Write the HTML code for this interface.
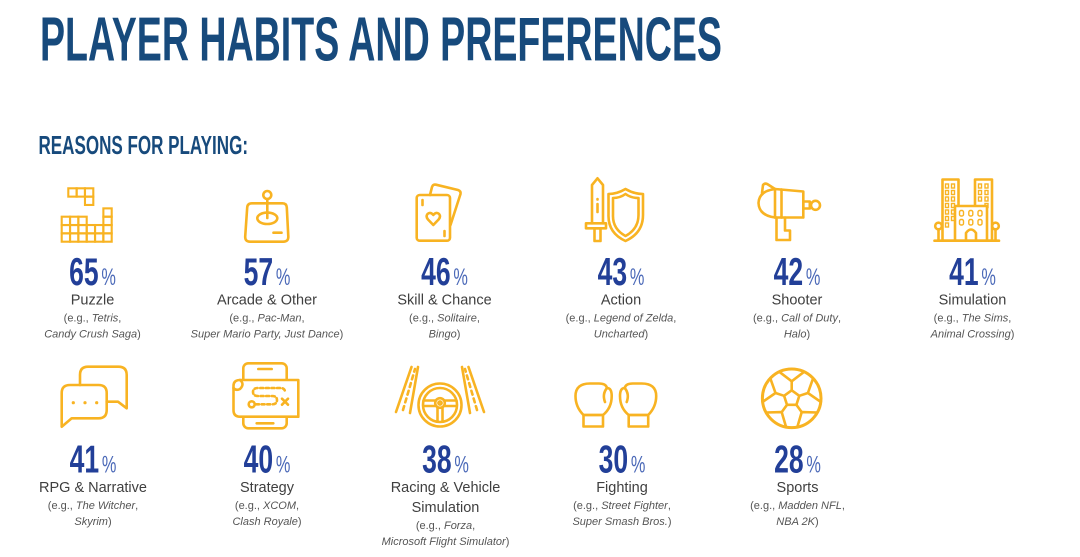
<!DOCTYPE html>
<html><head><meta charset="utf-8"><style>
html,body{margin:0;padding:0;background:#fff;}
svg{display:block;}
.ic{fill:none;stroke:#f8b322;stroke-width:2.6;stroke-linecap:round;stroke-linejoin:round}
.icw{fill:#fff;stroke:#f8b322;stroke-width:2.6;stroke-linecap:round;stroke-linejoin:round}
.c{fill:none;stroke:#f8b322;stroke-width:2.1}
.w{fill:none;stroke:#f8b322;stroke-width:1.4}
.t{font-family:"Liberation Sans",sans-serif;}
.lab{font-family:"Liberation Sans",sans-serif;font-size:14.5px;fill:#3f3f3f;text-anchor:middle}
.sub{font-family:"Liberation Sans",sans-serif;font-size:11px;fill:#555;text-anchor:middle}
.it{font-style:italic}
.pct{font-family:"Liberation Sans",sans-serif;text-anchor:middle}
.pn{font-weight:bold;font-size:39px;fill:#223f98}
.pc{font-size:24px;fill:#4b69b8}
</style></head><body>
<svg width="1080" height="557" viewBox="0 0 1080 557" xmlns="http://www.w3.org/2000/svg">
<rect width="1080" height="557" fill="#fff"/>
<text class="t" x="40" y="60.7" font-size="62" font-weight="bold" fill="#174a7c" textLength="682" lengthAdjust="spacingAndGlyphs">PLAYER HABITS AND PREFERENCES</text>
<text class="t" x="38.5" y="154" font-size="26" font-weight="bold" fill="#174a7c" textLength="209.5" lengthAdjust="spacingAndGlyphs">REASONS FOR PLAYING:</text>

<!-- Puzzle icon -->
<g class="c">
<rect x="68.3" y="188.3" width="8.33" height="8.33"/><rect x="76.63" y="188.3" width="8.33" height="8.33"/><rect x="84.97" y="188.3" width="8.33" height="8.33"/><rect x="84.97" y="196.63" width="8.33" height="8.33"/>
<rect x="61.7" y="233.37" width="8.33" height="8.33"/><rect x="61.7" y="225.03" width="8.33" height="8.33"/><rect x="61.7" y="216.7" width="8.33" height="8.33"/>
<rect x="70.03" y="233.37" width="8.33" height="8.33"/><rect x="70.03" y="225.03" width="8.33" height="8.33"/><rect x="70.03" y="216.7" width="8.33" height="8.33"/>
<rect x="78.37" y="233.37" width="8.33" height="8.33"/><rect x="78.37" y="225.03" width="8.33" height="8.33"/><rect x="78.37" y="216.7" width="8.33" height="8.33"/>
<rect x="86.7" y="233.37" width="8.33" height="8.33"/><rect x="86.7" y="225.03" width="8.33" height="8.33"/>
<rect x="95.03" y="233.37" width="8.33" height="8.33"/><rect x="95.03" y="225.03" width="8.33" height="8.33"/>
<rect x="103.37" y="233.37" width="8.33" height="8.33"/><rect x="103.37" y="225.03" width="8.33" height="8.33"/><rect x="103.37" y="216.7" width="8.33" height="8.33"/><rect x="103.37" y="208.37" width="8.33" height="8.33"/>
</g>

<!-- Arcade icon -->
<g class="ic">
<path d="M252,203.3 L282.5,203.3 Q286.5,203.3 286.8,207.5 L288.3,236.5 Q288.5,241.7 283.3,241.7 L250,241.7 Q245,241.7 245.2,236.5 L247.2,207.5 Q247.5,203.3 252,203.3 Z"/>
<circle cx="267.3" cy="195" r="4"/>
<line x1="267.3" y1="199" x2="267.3" y2="218"/>
<ellipse cx="267.3" cy="218.3" rx="10" ry="5.7"/>
<line x1="273.5" y1="232.7" x2="281.5" y2="232.7"/>
</g>

<!-- Cards icon -->
<g class="ic">
<path d="M430,195 L432,187 Q433,184 436,184.7 L458,190 Q461,191 460.5,194 L450.5,225"/>
<rect x="416.7" y="195" width="33.3" height="45.7" rx="3"/>
<path d="M433.3,225 L428,219.5 Q425.5,216.5 427.5,214 Q430.5,211.5 433.3,215 Q436.1,211.5 439.1,214 Q441.1,216.5 438.6,219.5 Z"/>
<line x1="422.5" y1="200" x2="422.5" y2="205"/>
<line x1="444.5" y1="231" x2="444.5" y2="236"/>
</g>

<!-- Sword & shield -->
<g class="ic">
<path d="M592,223.3 L592,185 L597.5,178.3 L603,185 L603,223.3"/>
<rect x="586" y="223.3" width="20" height="5"/>
<rect x="594.5" y="228.3" width="6" height="12.7"/>
<line x1="597.5" y1="204" x2="597.5" y2="212"/>
<line x1="597.5" y1="199" x2="597.5" y2="199.5"/>
<path d="M608.5,194 Q617,194 625.5,189 Q634,194 643,194 L643,215 Q643,233 625.5,241 Q608,233 608.5,215 Z"/>
<path d="M613,198 Q620,198 625.5,194 Q631,198 638.5,198 L638.5,215 Q638.5,229 625.5,236 Q612.5,229 613,215 Z"/>
</g>

<!-- Ray gun -->
<g class="ic">
<path d="M775,189 Q759,191 758.5,203 Q759,215.5 775,217.5"/>
<path d="M762,193 L763,185 Q765,182.5 768,184.5 L775,189"/>
<path d="M775,189 L803.3,191.5 L803.3,217.5 L775,217.5 Z"/>
<line x1="781.5" y1="189.6" x2="781.5" y2="217.5"/>
<rect x="803.3" y="201.5" width="6.5" height="7"/>
<circle cx="815.5" cy="205.3" r="4.5"/>
<path d="M776.5,217.5 L776.5,240 L790,240 L790,230.5 L785,230.5 L785,217.5"/>
</g>

<!-- Buildings -->
<g class="ic">
<rect x="942.5" y="179.5" width="16" height="61.2" class="icw"/>
<rect x="975" y="179.5" width="17" height="61.2" class="icw"/>
</g>
<g class="w">
<rect x="945.5" y="184" width="3" height="4"/><rect x="951.5" y="184" width="3" height="4"/>
<rect x="945.5" y="190.5" width="3" height="4"/><rect x="951.5" y="190.5" width="3" height="4"/>
<rect x="945.5" y="197" width="3" height="4"/><rect x="951.5" y="197" width="3" height="4"/>
<rect x="945.5" y="203.5" width="3" height="4"/><rect x="951.5" y="203.5" width="3" height="4"/>
<rect x="945.5" y="210" width="3" height="4"/><rect x="951.5" y="210" width="3" height="4"/>
<rect x="945.5" y="216.5" width="3" height="4"/><rect x="951.5" y="216.5" width="3" height="4"/>
<rect x="945.5" y="223" width="3" height="4"/>
<rect x="978.5" y="184" width="3" height="4"/><rect x="985" y="184" width="3" height="4"/>
<rect x="978.5" y="190.5" width="3" height="4"/><rect x="985" y="190.5" width="3" height="4"/>
<rect x="978.5" y="197" width="3" height="4"/><rect x="985" y="197" width="3" height="4"/>
<rect x="985" y="203.5" width="3" height="4"/>
</g>
<g class="ic">
<rect x="955" y="206" width="32" height="34.7" class="icw"/>
<path d="M966,240.7 L966,233 Q971,226 976,233 L976,240.7"/>
<circle cx="938.5" cy="226" r="3.3"/><line x1="938.5" y1="229.3" x2="938.5" y2="240.7"/>
<circle cx="995.5" cy="226" r="3.3"/><line x1="995.5" y1="229.3" x2="995.5" y2="240.7"/>
<line x1="934.5" y1="240.7" x2="999" y2="240.7"/>
</g>
<g class="w">
<rect x="959.5" y="210.5" width="4" height="5.5" rx="1.5"/><rect x="968.8" y="210.5" width="4" height="5.5" rx="1.5"/><rect x="978" y="210.5" width="4" height="5.5" rx="1.5"/>
<rect x="959.5" y="219.5" width="4" height="5.5" rx="1.5"/><rect x="968.8" y="219.5" width="4" height="5.5" rx="1.5"/><rect x="978" y="219.5" width="4" height="5.5" rx="1.5"/>
</g>

<!-- RPG bubbles -->
<g class="ic">
<path d="M80,385 L80,375 Q80,366.7 88,366.7 L118.5,366.7 Q126.7,366.7 126.7,375 L126.7,408.3 L118,401.7 L106.7,401.7"/>
<path d="M61.7,426.7 L61.7,393 Q61.7,385 70,385 L98.5,385 Q106.7,385 106.7,393 L106.7,410 Q106.7,418.3 98.5,418.3 L71.7,418.3 Z"/>
</g>
<g fill="#f8b322"><circle cx="73.3" cy="402.7" r="1.6"/><circle cx="85" cy="402.7" r="1.6"/><circle cx="96.7" cy="402.7" r="1.6"/></g>

<!-- Strategy -->
<g class="ic">
<rect x="243.3" y="363.3" width="43.4" height="65" rx="5"/>
<line x1="258.3" y1="369" x2="271.7" y2="369"/>
<line x1="256.7" y1="423.3" x2="273.3" y2="423.3"/>
<path class="icw" d="M240,380 L298.3,380 L298.3,416.7 L240,416.7 Q233.5,416.7 233.5,410 L233.5,386 Q233.5,380 240,380 Z"/>
<path d="M240,380 Q245,384 240,389 Q236,391 233.5,388"/>
<circle cx="251.7" cy="404.3" r="3"/>
<path d="M256,404.3 L272,404.3 Q277,404.3 277,400 Q277,396 272,396 L258,396 Q253,396 253,392 Q253,388 258,388 L280,388 Q285,388 285,392" stroke-dasharray="3 2.6"/>
<line x1="282" y1="398.7" x2="288" y2="404.7"/><line x1="288" y1="398.7" x2="282" y2="404.7"/>
</g>

<!-- Racing -->
<g class="ic">
<line x1="396" y1="412" x2="411.5" y2="367"/>
<line x1="410" y1="413" x2="418" y2="367"/>
<line x1="403" y1="410" x2="415" y2="369" stroke-dasharray="4 4"/>
<line x1="484" y1="412" x2="468.5" y2="367"/>
<line x1="470" y1="413" x2="462" y2="367"/>
<line x1="477" y1="410" x2="465" y2="369" stroke-dasharray="4 4"/>
<circle cx="440" cy="405" r="21.5" class="icw"/>
<circle cx="440" cy="405" r="17"/>
<circle cx="440" cy="403" r="4.8"/>
<circle cx="440" cy="403" r="1.6"/>
<line x1="423.5" y1="400.5" x2="435.2" y2="400.5"/>
<line x1="444.8" y1="400.5" x2="456.5" y2="400.5"/>
<line x1="424" y1="406" x2="436" y2="406"/>
<line x1="444" y1="406" x2="456" y2="406"/>
<line x1="437.5" y1="407.5" x2="437.5" y2="421.5"/>
<line x1="442.5" y1="407.5" x2="442.5" y2="421.5"/>
</g>

<!-- Boxing gloves -->
<g class="ic">
<path d="M583.5,415 Q575.5,407 575.5,396 Q575.5,383.5 590,383.5 L599,383.5 Q606,383.5 607,388 Q611.7,388 611.7,396 Q611.7,408 603,415 Z"/>
<path d="M607,388 Q602,394 605,402"/>
<rect x="583.5" y="415" width="19.5" height="11.5"/>
</g>
<g class="ic" transform="translate(1231.7,0) scale(-1,1)">
<path d="M583.5,415 Q575.5,407 575.5,396 Q575.5,383.5 590,383.5 L599,383.5 Q606,383.5 607,388 Q611.7,388 611.7,396 Q611.7,408 603,415 Z"/>
<path d="M607,388 Q602,394 605,402"/>
<rect x="583.5" y="415" width="19.5" height="11.5"/>
</g>

<!-- Soccer ball -->
<g class="ic">
<circle cx="791.7" cy="398.3" r="29.3" stroke-width="3"/>
<path d="M791.7,390.3 L799.3,395.8 L796.4,404.8 L787,404.8 L784.1,395.8 Z"/>
<line x1="791.7" y1="390.3" x2="791.7" y2="381.3"/>
<line x1="799.3" y1="395.8" x2="807.9" y2="393"/>
<line x1="796.4" y1="404.8" x2="801.7" y2="412.1"/>
<line x1="787" y1="404.8" x2="781.7" y2="412.1"/>
<line x1="784.1" y1="395.8" x2="775.5" y2="393"/>
<path d="M779.3,371.8 L791.7,381.3 L804.1,371.8"/>
<path d="M813.1,378.3 L807.9,393 L820.8,401.9"/>
<path d="M817.3,412.5 L801.7,412.1 L797.3,427.1"/>
<path d="M786.1,427.1 L781.7,412.1 L766.1,412.5"/>
<path d="M762.6,401.9 L775.5,393 L770.3,378.3"/>
</g>

<!-- Row 1 text -->
<text class="pct" transform="translate(92.5,285) scale(0.68,1)"><tspan class="pn">65</tspan><tspan class="pc" dx="4">%</tspan></text>
<text class="lab" x="92.5" y="304.5">Puzzle</text>
<text class="sub" x="92.5" y="321.5">(e.g., <tspan class="it">Tetris</tspan>,</text>
<text class="sub" x="92.5" y="337.5"><tspan class="it">Candy Crush Saga</tspan>)</text>

<text class="pct" transform="translate(267,285) scale(0.68,1)"><tspan class="pn">57</tspan><tspan class="pc" dx="4">%</tspan></text>
<text class="lab" x="267" y="304.5">Arcade &amp; Other</text>
<text class="sub" x="267" y="321.5">(e.g., <tspan class="it">Pac-Man</tspan>,</text>
<text class="sub" x="267" y="337.5"><tspan class="it">Super Mario Party, Just Dance</tspan>)</text>

<text class="pct" transform="translate(444.5,285) scale(0.68,1)"><tspan class="pn">46</tspan><tspan class="pc" dx="4">%</tspan></text>
<text class="lab" x="444.5" y="304.5">Skill &amp; Chance</text>
<text class="sub" x="444.5" y="321.5">(e.g., <tspan class="it">Solitaire</tspan>,</text>
<text class="sub" x="444.5" y="337.5"><tspan class="it">Bingo</tspan>)</text>

<text class="pct" transform="translate(621,285) scale(0.68,1)"><tspan class="pn">43</tspan><tspan class="pc" dx="4">%</tspan></text>
<text class="lab" x="621" y="304.5">Action</text>
<text class="sub" x="621" y="321.5">(e.g., <tspan class="it">Legend of Zelda</tspan>,</text>
<text class="sub" x="621" y="337.5"><tspan class="it">Uncharted</tspan>)</text>

<text class="pct" transform="translate(797,285) scale(0.68,1)"><tspan class="pn">42</tspan><tspan class="pc" dx="4">%</tspan></text>
<text class="lab" x="797" y="304.5">Shooter</text>
<text class="sub" x="797" y="321.5">(e.g., <tspan class="it">Call of Duty</tspan>,</text>
<text class="sub" x="797" y="337.5"><tspan class="it">Halo</tspan>)</text>

<text class="pct" transform="translate(972.5,285) scale(0.68,1)"><tspan class="pn">41</tspan><tspan class="pc" dx="4">%</tspan></text>
<text class="lab" x="972.5" y="304.5">Simulation</text>
<text class="sub" x="972.5" y="321.5">(e.g., <tspan class="it">The Sims</tspan>,</text>
<text class="sub" x="972.5" y="337.5"><tspan class="it">Animal Crossing</tspan>)</text>

<!-- Row 2 text -->
<text class="pct" transform="translate(93,472.5) scale(0.68,1)"><tspan class="pn">41</tspan><tspan class="pc" dx="4">%</tspan></text>
<text class="lab" x="93" y="492">RPG &amp; Narrative</text>
<text class="sub" x="93" y="509">(e.g., <tspan class="it">The Witcher</tspan>,</text>
<text class="sub" x="93" y="525"><tspan class="it">Skyrim</tspan>)</text>

<text class="pct" transform="translate(267,472.5) scale(0.68,1)"><tspan class="pn">40</tspan><tspan class="pc" dx="4">%</tspan></text>
<text class="lab" x="267" y="492">Strategy</text>
<text class="sub" x="267" y="509">(e.g., <tspan class="it">XCOM</tspan>,</text>
<text class="sub" x="267" y="525"><tspan class="it">Clash Royale</tspan>)</text>

<text class="pct" transform="translate(445.5,472.5) scale(0.68,1)"><tspan class="pn">38</tspan><tspan class="pc" dx="4">%</tspan></text>
<text class="lab" x="445.5" y="492">Racing &amp; Vehicle</text>
<text class="lab" x="445.5" y="512">Simulation</text>
<text class="sub" x="445.5" y="529">(e.g., <tspan class="it">Forza</tspan>,</text>
<text class="sub" x="445.5" y="545"><tspan class="it">Microsoft Flight Simulator</tspan>)</text>

<text class="pct" transform="translate(622,472.5) scale(0.68,1)"><tspan class="pn">30</tspan><tspan class="pc" dx="4">%</tspan></text>
<text class="lab" x="622" y="492">Fighting</text>
<text class="sub" x="622" y="509">(e.g., <tspan class="it">Street Fighter</tspan>,</text>
<text class="sub" x="622" y="525"><tspan class="it">Super Smash Bros.</tspan>)</text>

<text class="pct" transform="translate(797.5,472.5) scale(0.68,1)"><tspan class="pn">28</tspan><tspan class="pc" dx="4">%</tspan></text>
<text class="lab" x="797.5" y="492">Sports</text>
<text class="sub" x="797.5" y="509">(e.g., <tspan class="it">Madden NFL</tspan>,</text>
<text class="sub" x="797.5" y="525"><tspan class="it">NBA 2K</tspan>)</text>
</svg>
</body></html>
